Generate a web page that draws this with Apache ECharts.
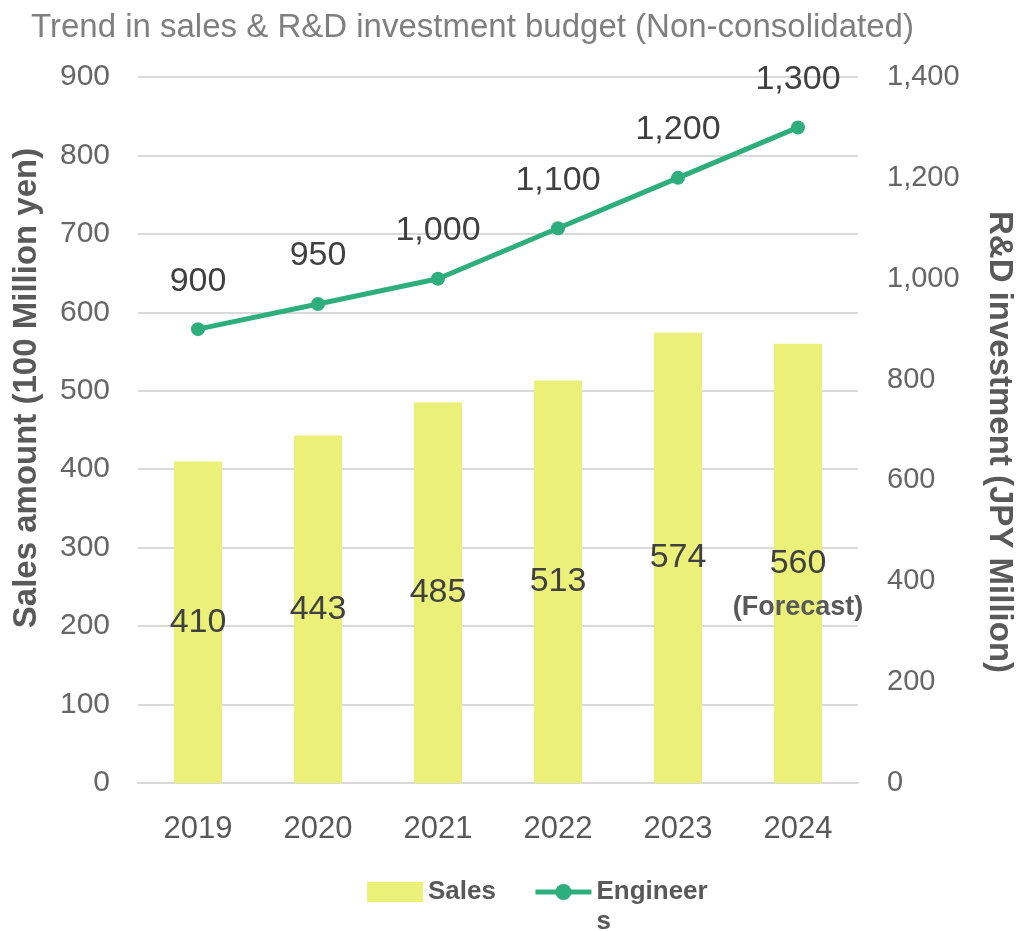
<!DOCTYPE html>
<html><head><meta charset="utf-8">
<script src="https://cdn.jsdelivr.net/npm/echarts@6/dist/echarts.min.js"></script>
<style>html,body{margin:0;padding:0;background:#fff}#c{width:1019px;height:931px}</style>
</head><body><div id="c"></div>
<script>
const titleText = 'Trend in sales & R&D investment budget (Non-consolidated)';
const years = ['2019','2020','2021','2022','2023','2024'];
const sales = [410, 443, 485, 513, 574, 560];
const rnd = [900, 950, 1000, 1100, 1200, 1300];
const forecastIndex = 5;
const leftName = 'Sales amount (100 Million yen)';
const rightName = 'R&D investment (JPY Million)';
const legendLabels = { Sales: 'Sales', Engineers: '\nEngineer\ns' };

const sans = '"Liberation Sans", Arial, sans-serif';
const chart = echarts.init(document.getElementById('c'));
chart.setOption({
  animation: false,
  title: { text: titleText, left: 26, top: 6,
    textStyle: { fontFamily: sans, fontSize: 33, fontWeight: 'normal', color: '#7f7f7f' } },
  grid: { left: 138, right: 161, top: 77, bottom: 148, containLabel: false, outerBoundsMode: 'none' },
  legend: {
    left: 362, top: 842, itemGap: 37, itemWidth: 56, itemHeight: 20,
    formatter: name => legendLabels[name],
    textStyle: { fontFamily: sans, fontWeight: 'bold', fontSize: 26, lineHeight: 30, color: '#595959' },
    data: [
      { name: 'Sales', icon: 'rect' },
      { name: 'Engineers', lineStyle: { width: 5 } }
    ]
  },
  xAxis: {
    type: 'category', data: years,
    axisLine: { lineStyle: { color: '#d9d9d9', width: 2 } },
    axisTick: { show: false },
    axisLabel: { fontFamily: sans, fontSize: 31, color: '#595959', margin: 31 }
  },
  yAxis: [{
    type: 'value', min: 0, max: 900, interval: 100, position: 'left',
    name: leftName, nameLocation: 'middle', nameGap: 95, nameRotate: 90,
    nameTextStyle: { fontFamily: sans, fontSize: 33, fontWeight: 'bold', color: '#595959', padding: [0, 0, 0, 84] },
    axisLine: { show: false }, axisTick: { show: false },
    axisLabel: { fontFamily: sans, fontSize: 30, color: '#666666', margin: 28 },
    splitLine: { lineStyle: { color: '#d9d9d9', width: 2 } }
  }, {
    type: 'value', min: 0, max: 1400, interval: 200, position: 'right',
    name: rightName, nameLocation: 'middle', nameGap: 125, nameRotate: -90,
    nameTextStyle: { fontFamily: sans, fontSize: 33, fontWeight: 'bold', color: '#595959', padding: [0, 0, 0, 24] },
    axisLine: { show: false }, axisTick: { show: false },
    axisLabel: { fontFamily: sans, fontSize: 29, color: '#666666', margin: 29,
      formatter: v => v.toLocaleString('en-US') },
    splitLine: { show: false }
  }],
  series: [{
    name: 'Sales', type: 'bar', yAxisIndex: 0, barWidth: '40%',
    itemStyle: { color: '#eaf078' },
    data: sales.map((v, i) => i === forecastIndex ? {
      value: v,
      label: { formatter: '{v|{c}}\n{f|(Forecast)}', offset: [0, 22] }
    } : v),
    label: { show: true, position: 'inside', fontFamily: sans, fontSize: 34, color: '#404040',
      rich: { v: { fontFamily: sans, fontSize: 34, color: '#404040', lineHeight: 44 },
              f: { fontFamily: sans, fontSize: 27, fontWeight: 'bold', color: '#595959', lineHeight: 44 } } }
  }, {
    name: 'Engineers', type: 'line', yAxisIndex: 1, data: rnd,
    symbol: 'circle', symbolSize: 14,
    lineStyle: { color: '#2eae7c', width: 5 },
    itemStyle: { color: '#2eae7c' },
    label: { show: true, position: 'top', distance: 24, fontFamily: sans, fontSize: 34, color: '#404040',
      formatter: p => p.value.toLocaleString('en-US') }
  }]
});
</script></body></html>
